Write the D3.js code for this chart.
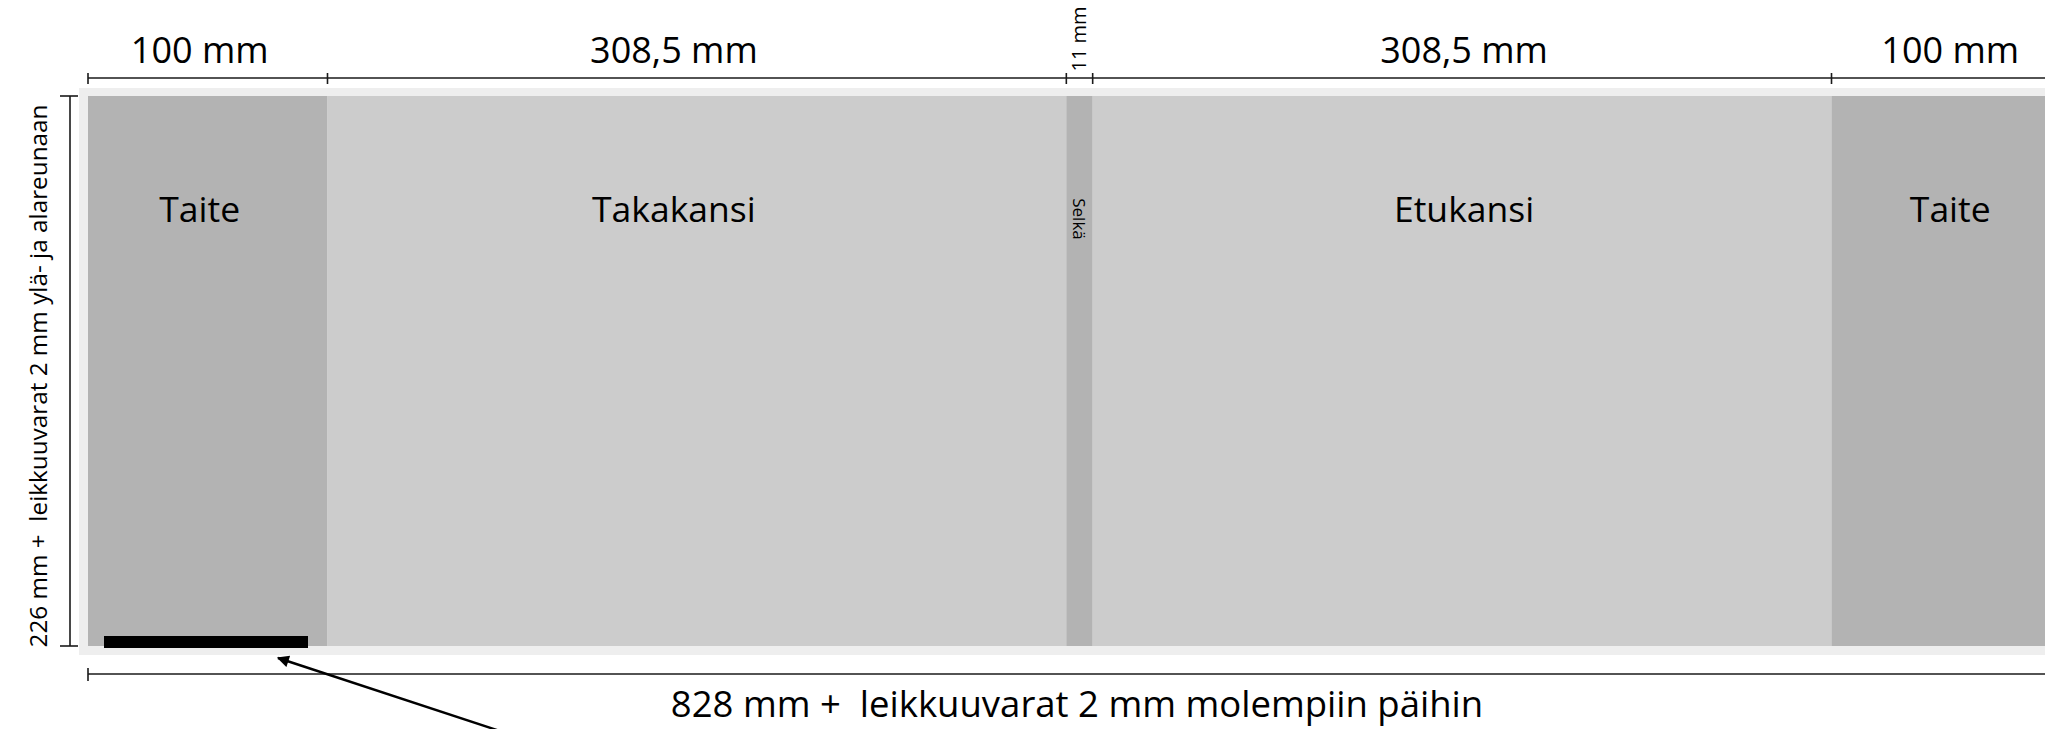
<!DOCTYPE html>
<html><head><meta charset="utf-8">
<script src="https://cdn.jsdelivr.net/npm/d3@7/dist/d3.min.js"></script>
<style>body{margin:0;background:#fff}svg{display:block}text{font-family:"Open Sans",sans-serif;fill:#000;white-space:pre}</style>
</head><body>
<script>
const panels = ["Taite", "Takakansi", "Selkä", "Etukansi", "Taite"];
const widthsMm = [100, 308.5, 11, 308.5, 100];
const dimLabels = ["100 mm", "308,5 mm", "11 mm", "308,5 mm", "100 mm"];
const heightMm = 226;
const totalLabel = "828 mm +  leikkuuvarat 2 mm molempiin päihin";
const heightLabel = "226 mm +  leikkuuvarat 2 mm ylä- ja alareunaan";

const W = 2045, H = 729;
const svg = d3.select("body").append("svg").attr("width", W).attr("height", H);
const total = d3.sum(widthsMm);
const x = d3.scaleLinear().domain([0, total]).range([88, 2071]);
const y = d3.scaleLinear().domain([0, heightMm]).range([96, 646]);
const starts = d3.cumsum([0, ...widthsMm]);
const bleed = 9;
const fills = ["#b3b3b3", "#cccccc", "#b3b3b3", "#cccccc", "#b3b3b3"];
const labelShift = [-8, -23, 0, 2, -1];

// bleed area
svg.append("rect").attr("x", x(0) - bleed).attr("y", y(0) - 8)
  .attr("width", x(total) - x(0) + 2 * bleed).attr("height", y(heightMm) - y(0) + 17)
  .attr("fill", "#eeeeee");

// panels
svg.selectAll("rect.panel").data(panels).join("rect").attr("class", "panel")
  .attr("x", (d, i) => x(starts[i])).attr("y", y(0))
  .attr("width", (d, i) => x(starts[i + 1]) - x(starts[i]))
  .attr("height", y(heightMm) - y(0))
  .attr("fill", (d, i) => fills[i]);

// panel labels
panels.forEach((p, i) => {
  const cx = (x(starts[i]) + x(starts[i + 1])) / 2 + labelShift[i];
  if (p === "Selkä") {
    svg.append("text").attr("transform", `translate(${cx - 7},${219}) rotate(90)`)
      .attr("text-anchor", "middle").attr("font-size", 17).text(p);
  } else {
    svg.append("text").attr("x", cx).attr("y", 222).attr("text-anchor", "middle")
      .attr("font-size", 35.5).text(p);
  }
});

// black bar
svg.append("rect").attr("x", 104).attr("y", 636).attr("width", 204).attr("height", 12).attr("fill", "#000");

// top dimension line
const line = "#1a1a1a";
svg.append("line").attr("x1", x(0)).attr("x2", W + 10).attr("y1", 78).attr("y2", 78)
  .attr("stroke", line).attr("stroke-width", 1.6);
svg.selectAll("line.tick").data(starts).join("line").attr("class", "tick")
  .attr("x1", d => x(d)).attr("x2", d => x(d)).attr("y1", 73).attr("y2", 84)
  .attr("stroke", line).attr("stroke-width", 1.6);
dimLabels.forEach((t, i) => {
  const cx = (x(starts[i]) + x(starts[i + 1])) / 2 + labelShift[i];
  if (widthsMm[i] < 20) {
    svg.append("text").attr("transform", `translate(${cx + 6},${39}) rotate(-90)`)
      .attr("text-anchor", "middle").attr("font-size", 20).text(t);
  } else {
    svg.append("text").attr("x", cx).attr("y", 63).attr("text-anchor", "middle")
      .attr("font-size", 36).text(t);
  }
});

// bottom dimension line
svg.append("line").attr("x1", x(0)).attr("x2", W + 10).attr("y1", 674).attr("y2", 674)
  .attr("stroke", line).attr("stroke-width", 1.6);
svg.append("line").attr("x1", x(0)).attr("x2", x(0)).attr("y1", 668).attr("y2", 681)
  .attr("stroke", line).attr("stroke-width", 1.6);
svg.append("text").attr("x", 1077).attr("y", 717).attr("text-anchor", "middle")
  .attr("font-size", 36.5).text(totalLabel);

// vertical dimension line
svg.append("line").attr("x1", 70).attr("x2", 70).attr("y1", y(0)).attr("y2", y(heightMm))
  .attr("stroke", line).attr("stroke-width", 1.6);
[0, heightMm].forEach(v => svg.append("line").attr("x1", 60).attr("x2", 78)
  .attr("y1", y(v)).attr("y2", y(v)).attr("stroke", line).attr("stroke-width", 1.6));
svg.append("text").attr("transform", `translate(47,${376}) rotate(-90)`)
  .attr("text-anchor", "middle").attr("font-size", 24.3).text(heightLabel);

// arrow
const defs = svg.append("defs");
defs.append("marker").attr("id", "ah").attr("viewBox", "0 0 10 10").attr("refX", 9).attr("refY", 5)
  .attr("markerWidth", 6).attr("markerHeight", 5).attr("markerUnits", "strokeWidth").attr("orient", "auto")
  .append("path").attr("d", "M0,0L10,5L0,10Z").attr("fill", "#000");
svg.append("line").attr("x1", 512).attr("y1", 735).attr("x2", 278).attr("y2", 658)
  .attr("stroke", "#000").attr("stroke-width", 2.4).attr("marker-end", "url(#ah)");
</script>
</body></html>
